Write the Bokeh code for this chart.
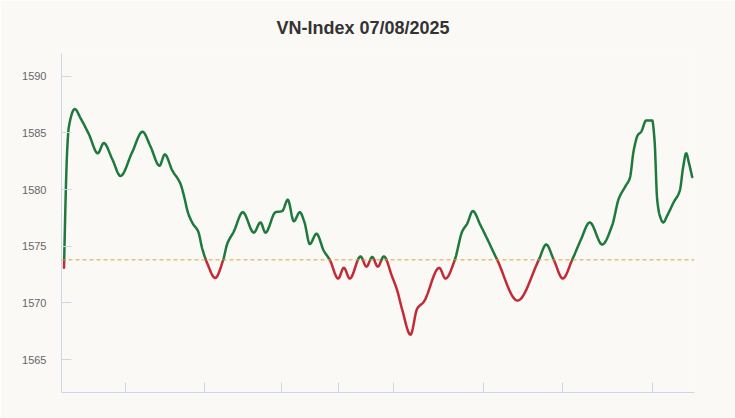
import numpy as np
from bokeh.plotting import figure
from bokeh.models import FixedTicker, Span, CustomJSTickFormatter, ColumnDataSource
from bokeh.embed import file_html
from bokeh.resources import INLINE

# ---- data (session time step, index value) ----
title_text = "VN-Index 07/08/2025"
ref_close = 1573.8
t = [2.5, 4.5, 5.7, 7.3, 13.3, 19, 27.3, 36.3, 42.3, 50.7, 59, 70.7, 81, 89, 98, 103.3,
     110.7, 119, 122.3, 126.7, 131.3, 136.7, 140.7, 145.7, 153.7, 161.7, 165.7, 172.3,
     181.3, 192.3, 199, 204, 214, 220.7, 226.3, 232.3, 238.3, 243, 248.3, 255, 262.3,
     268.3, 276.7, 282.3, 288.3, 299, 305, 310.7, 316.3, 322.3, 330.7, 335.7, 340.7,
     349, 355.7, 362.3, 377.7, 384, 393.3, 400.7, 405.7, 411.3, 419, 435.7, 456, 477.3,
     484.7, 492.3, 501.3, 510.7, 519, 528.3, 540.7, 550.7, 557.3, 564, 568.3, 572.3,
     576.3, 579.7, 584.7, 590.7, 593, 595.7, 598.3, 601.7, 605.7, 612.3, 618.3, 621.7,
     624.7, 627.3, 630.7]
vnindex = [1573.1, 1580.5, 1583.5, 1585.5, 1587.1, 1586.3, 1584.9, 1583.2, 1584.1, 1582.7,
           1581.2, 1583.3, 1585.1, 1583.8, 1582.1, 1583.1, 1581.7, 1580.5, 1579.5, 1577.9,
           1577.0, 1576.3, 1574.8, 1573.5, 1572.2, 1573.8, 1575.2, 1576.3, 1578.0, 1576.2,
           1577.1, 1576.2, 1578.0, 1578.1, 1579.1, 1577.2, 1578.0, 1577.1, 1575.2, 1576.1,
           1574.6, 1573.8, 1572.15, 1573.1, 1572.15, 1574.1, 1573.2, 1574.05, 1573.2, 1574.1,
           1572.3, 1571.1, 1569.4, 1567.2, 1569.5, 1570.1, 1573.1, 1572.15, 1573.8, 1576.3,
           1577.0, 1578.1, 1576.85, 1573.8, 1570.2, 1573.8, 1575.15, 1573.8, 1572.15, 1573.8,
           1575.5, 1577.1, 1575.15, 1576.85, 1579.2, 1580.3, 1581.0, 1583.5, 1584.8, 1585.1,
           1586.1, 1586.1, 1584.4, 1579.1, 1577.7, 1577.1, 1577.7, 1578.9, 1579.9, 1582.0,
           1583.2, 1582.4, 1581.1]
x_ticks = [63.7, 142.5, 220, 276.5, 332, 422, 500.6, 590.6]
y_ticks = [1565, 1570, 1575, 1580, 1585, 1590]

# ---- smooth (monotone cubic) rendering of the series ----
def pchip(x, y, n=12):
    x = np.asarray(x, float); y = np.asarray(y, float)
    h = np.diff(x); d = np.diff(y) / h
    m = np.zeros_like(y)
    m[0] = d[0]; m[-1] = d[-1]
    for k in range(1, len(y) - 1):
        if d[k - 1] * d[k] <= 0:
            m[k] = 0.0
        else:
            w1 = 2 * h[k] + h[k - 1]; w2 = h[k] + 2 * h[k - 1]
            m[k] = (w1 + w2) / (w1 / d[k - 1] + w2 / d[k])
    xs, ys = [], []
    for k in range(len(h)):
        s = np.linspace(0, 1, n, endpoint=False)
        h00 = 2 * s**3 - 3 * s**2 + 1; h10 = s**3 - 2 * s**2 + s
        h01 = -2 * s**3 + 3 * s**2; h11 = s**3 - s**2
        xs.extend(x[k] + s * h[k])
        ys.extend(h00 * y[k] + h10 * h[k] * m[k] + h01 * y[k + 1] + h11 * h[k] * m[k + 1])
    xs.append(x[-1]); ys.append(y[-1])
    return np.array(xs), np.array(ys)

sx, sy = pchip(t, vnindex)
runs_x, runs_y, colors = [], [], []
green, red = "#1e7a3c", "#c42a35"
cur_x, cur_y = [sx[0]], [sy[0]]
cur_up = sy[0] >= ref_close
for i in range(1, len(sx)):
    up = sy[i] >= ref_close
    if up != cur_up:
        f = (ref_close - sy[i - 1]) / (sy[i] - sy[i - 1])
        cx = sx[i - 1] + f * (sx[i] - sx[i - 1])
        cur_x.append(cx); cur_y.append(ref_close)
        runs_x.append(cur_x); runs_y.append(cur_y); colors.append(green if cur_up else red)
        cur_x, cur_y = [cx], [ref_close]
        cur_up = up
    cur_x.append(sx[i]); cur_y.append(sy[i])
runs_x.append(cur_x); runs_y.append(cur_y); colors.append(green if cur_up else red)

bg = "#faf9f6"
axis_col = "#ccd6eb"

p = figure(width=735, height=418, x_range=(0, 633), y_range=(1562.1, 1592.0),
           output_backend="svg", toolbar_location=None,
           background_fill_color=bg, border_fill_color=bg, outline_line_color=None,
           min_border_left=61, min_border_right=41, min_border_top=53, min_border_bottom=26)

p.title.text = title_text
p.title.align = "left"
p.title.text_font = "Liberation Sans"
p.title.text_font_style = "bold"
p.title.text_font_size = "18px"
p.title.text_color = "#333333"
p.title.standoff = 31
p.title.offset = 215

p.grid.visible = False

p.yaxis.ticker = FixedTicker(ticks=y_ticks)
p.yaxis.axis_line_color = axis_col
p.yaxis.major_tick_line_color = axis_col
p.yaxis.major_tick_in = 10
p.yaxis.major_tick_out = 0
p.yaxis.minor_tick_line_color = None
p.yaxis.major_label_standoff = 15
p.yaxis.major_label_text_font = "Liberation Sans"
p.yaxis.major_label_text_font_size = "11px"
p.yaxis.major_label_text_color = "#666666"

p.xaxis.ticker = FixedTicker(ticks=x_ticks)
p.xaxis.axis_line_color = axis_col
p.xaxis.major_tick_line_color = axis_col
p.xaxis.major_tick_in = 10
p.xaxis.major_tick_out = 0
p.xaxis.minor_tick_line_color = None
p.xaxis.formatter = CustomJSTickFormatter(code="return ''")
p.xaxis.major_label_text_font_size = "1px"

p.add_layout(Span(location=ref_close, dimension="width", line_color="#d9a040",
                  line_dash="4 3", line_width=1))

src = ColumnDataSource(dict(xs=runs_x, ys=runs_y, color=colors))
p.multi_line(xs="xs", ys="ys", line_color="color", line_width=2.5, source=src,
             line_join="round", line_cap="round")

open("out.html", "w").write(file_html(p, INLINE))
